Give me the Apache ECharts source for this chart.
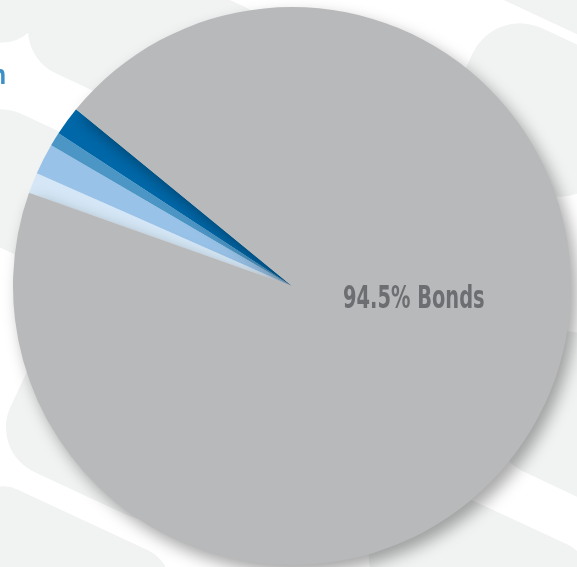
<!DOCTYPE html>
<html>
<head>
<meta charset="utf-8">
<script src="https://cdn.jsdelivr.net/npm/echarts@6/dist/echarts.min.js"></script>
<style>
html,body{margin:0;padding:0;background:#fff;}
#c{width:577px;height:567px;}
</style>
</head>
<body>
<div id="c"></div>
<script>
var categories = ['Other 4', 'Other 3', 'Other 2', 'Other 1', 'Bonds'];
var values = [1.2, 1.8, 0.8, 1.7, 94.5];
var colors = ['#d5e7f6', '#98c2e7', '#4c96c6', '#0068a9', '#b8b9bb'];
var bondLabel = '94.5% Bonds';
var partialLabel = 'n';

var chart = echarts.init(document.getElementById('c'), null, {renderer: 'canvas'});
var deg = Math.PI / 180;
var FONT = '"Liberation Sans Narrow", "DejaVu Sans Condensed", "DejaVu Sans", sans-serif';
function blob(cx, cy, w, h, rotDeg) {
  return {
    type: 'rect', x: cx, y: cy, originX: 0, originY: 0,
    rotation: -rotDeg * deg, z: -10, silent: true,
    shape: {x: -w / 2, y: -h / 2, width: w, height: h, r: Math.min(w, h) * 0.35},
    style: {fill: '#f1f2f2'}
  };
}
var data = categories.map(function (c, i) {
  var item = {name: c, value: values[i], itemStyle: {color: colors[i]}};
  if (c === 'Bonds') {
    item.itemStyle.shadowBlur = 16;
    item.itemStyle.shadowColor = 'rgba(0,0,0,0.35)';
    item.itemStyle.shadowOffsetX = 6;
    item.itemStyle.shadowOffsetY = 8;
  }
  return item;
});
chart.setOption({
  animation: false,
  backgroundColor: '#ffffff',
  graphic: [
    blob(150, 40, 240, 140, 25),
    blob(-10, -20, 120, 110, 25),
    blob(20, 185, 150, 130, 25),
    blob(540, 110, 170, 150, 25),
    blob(560, -40, 200, 120, 25),
    blob(110, 430, 200, 140, 25),
    blob(60, 570, 220, 110, 25),
    blob(590, 420, 180, 150, 25),
    blob(480, 570, 220, 120, 25),
    {
      type: 'text', x: 6, y: 77, z: 10, scaleX: 0.8, scaleY: 1,
      style: {text: partialLabel, fill: '#3d8fc8', font: 'bold 27px ' + FONT, textAlign: 'right', textVerticalAlign: 'middle'}
    },
    {
      type: 'text', x: 343, y: 300, z: 10, scaleX: 0.72, scaleY: 1.05,
      style: {text: bondLabel, fill: '#6d6e71', font: 'bold 30px ' + FONT, textAlign: 'left', textVerticalAlign: 'middle'}
    }
  ],
  series: [{
    type: 'pie',
    center: [292, 286],
    radius: [0, 279],
    startAngle: 160.5,
    clockwise: true,
    label: {show: false},
    labelLine: {show: false},
    emphasis: {disabled: true},
    itemStyle: {borderWidth: 0},
    data: data
  }]
});
</script>
</body>
</html>
